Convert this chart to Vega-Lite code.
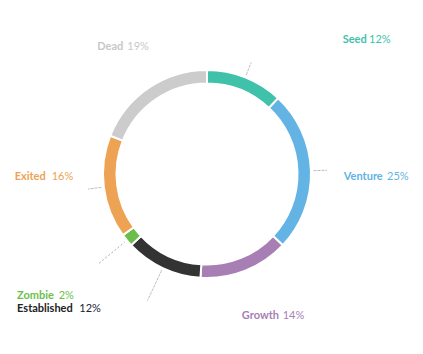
{
  "$schema": "https://vega.github.io/schema/vega-lite/v6.json",
  "width": 414,
  "height": 348,
  "padding": 0,
  "autosize": "none",
  "background": "white",
  "config": {"view": {"stroke": null}, "text": {"font": "Lato", "fontSize": 11, "baseline": "middle", "radius": 115}},
  "data": {"values": [
    {"category": "Seed", "value": 12},
    {"category": "Venture", "value": 25},
    {"category": "Growth", "value": 14},
    {"category": "Established", "value": 12},
    {"category": "Zombie", "value": 2},
    {"category": "Exited", "value": 16},
    {"category": "Dead", "value": 19}
  ]},
  "transform": [
    {"stack": "value", "groupby": [], "as": ["v0", "v1"]},
    {"calculate": "(datum.v0 + datum.v1) / 2", "as": "mid"},
    {"calculate": "datum.value + '%'", "as": "pct"}
  ],
  "layer": [
    {
      "mark": {"type": "arc", "outerRadius": 104, "innerRadius": 90.5, "stroke": "#ffffff", "strokeWidth": 2},
      "encoding": {
        "theta": {"field": "v0", "type": "quantitative", "stack": null, "scale": {"domain": [0, 100]}},
        "theta2": {"field": "v1"},
        "color": {"field": "category", "type": "nominal", "legend": null,
          "scale": {"domain": ["Seed", "Venture", "Growth", "Established", "Zombie", "Exited", "Dead"],
                    "range": ["#40c2aa", "#63b4e4", "#a77fb5", "#333333", "#6abf4a", "#eea254", "#cccccc"]}}
      }
    },
    {"transform": [{"filter": "datum.category === 'Seed' || datum.category === 'Venture' || datum.category === 'Exited'"}],
     "mark": {"type": "arc", "outerRadius": 120, "innerRadius": 106, "fill": null, "stroke": "#bbbbbb", "strokeWidth": 1, "strokeDash": [1.5, 2.5]},
     "encoding": {"theta": {"field": "mid", "type": "quantitative", "stack": null}, "theta2": {"field": "mid"}}},
    {"transform": [{"filter": "datum.category === 'Zombie'"}],
     "mark": {"type": "arc", "outerRadius": 140, "innerRadius": 107, "fill": null, "stroke": "#bbbbbb", "strokeWidth": 1, "strokeDash": [1.5, 2.5]},
     "encoding": {"theta": {"field": "mid", "type": "quantitative", "stack": null}, "theta2": {"field": "mid"}}},
    {"transform": [{"filter": "datum.category === 'Established'"}],
     "mark": {"type": "arc", "outerRadius": 140, "innerRadius": 106, "fill": null, "stroke": "#bbbbbb", "strokeWidth": 1, "strokeDash": [1.5, 2.5]},
     "encoding": {"theta": {"field": "mid", "type": "quantitative", "stack": null}, "theta2": {"field": "mid"}}},
    {"transform": [{"filter": "datum.category === 'Seed'"}],
     "mark": {"type": "text", "align": "right", "dx": 117.4, "dy": -27, "fontWeight": "bold", "color": "#40c2aa"},
     "encoding": {"theta": {"field": "mid", "type": "quantitative", "stack": null}, "text": {"field": "category"}}},
    {"transform": [{"filter": "datum.category === 'Seed'"}],
     "mark": {"type": "text", "align": "left", "dx": 119.7, "dy": -27, "fontWeight": "normal", "color": "#40c2aa"},
     "encoding": {"theta": {"field": "mid", "type": "quantitative", "stack": null}, "text": {"field": "pct"}}},
    {"transform": [{"filter": "datum.category === 'Venture'"}],
     "mark": {"type": "text", "align": "right", "dx": 60.8, "dy": 6.3, "fontWeight": "bold", "color": "#63b4e4"},
     "encoding": {"theta": {"field": "mid", "type": "quantitative", "stack": null}, "text": {"field": "category"}}},
    {"transform": [{"filter": "datum.category === 'Venture'"}],
     "mark": {"type": "text", "align": "left", "dx": 65.1, "dy": 6.3, "fontWeight": "normal", "color": "#63b4e4"},
     "encoding": {"theta": {"field": "mid", "type": "quantitative", "stack": null}, "text": {"field": "pct"}}},
    {"transform": [{"filter": "datum.category === 'Growth'"}],
     "mark": {"type": "text", "align": "right", "dx": 29.7, "dy": 35, "fontWeight": "bold", "color": "#a77fb5"},
     "encoding": {"theta": {"field": "mid", "type": "quantitative", "stack": null}, "text": {"field": "category"}}},
    {"transform": [{"filter": "datum.category === 'Growth'"}],
     "mark": {"type": "text", "align": "left", "dx": 33.4, "dy": 35, "fontWeight": "normal", "color": "#a77fb5"},
     "encoding": {"theta": {"field": "mid", "type": "quantitative", "stack": null}, "text": {"field": "pct"}}},
    {"transform": [{"filter": "datum.category === 'Established'"}],
     "mark": {"type": "text", "align": "right", "dx": -85.3, "dy": 30.9, "fontWeight": "bold", "color": "#222222"},
     "encoding": {"theta": {"field": "mid", "type": "quantitative", "stack": null}, "text": {"field": "category"}}},
    {"transform": [{"filter": "datum.category === 'Established'"}],
     "mark": {"type": "text", "align": "left", "dx": -78.7, "dy": 30.9, "fontWeight": "normal", "color": "#222233"},
     "encoding": {"theta": {"field": "mid", "type": "quantitative", "stack": null}, "text": {"field": "pct"}}},
    {"transform": [{"filter": "datum.category === 'Zombie'"}],
     "mark": {"type": "text", "align": "right", "dx": -64.4, "dy": 48.2, "fontWeight": "bold", "color": "#6abf4a"},
     "encoding": {"theta": {"field": "mid", "type": "quantitative", "stack": null}, "text": {"field": "category"}}},
    {"transform": [{"filter": "datum.category === 'Zombie'"}],
     "mark": {"type": "text", "align": "left", "dx": -59.7, "dy": 48.2, "fontWeight": "normal", "color": "#6abf4a"},
     "encoding": {"theta": {"field": "mid", "type": "quantitative", "stack": null}, "text": {"field": "pct"}}},
    {"transform": [{"filter": "datum.category === 'Exited'"}],
     "mark": {"type": "text", "align": "right", "dx": -47.2, "dy": -11.7, "fontWeight": "bold", "color": "#eea254"},
     "encoding": {"theta": {"field": "mid", "type": "quantitative", "stack": null}, "text": {"field": "category"}}},
    {"transform": [{"filter": "datum.category === 'Exited'"}],
     "mark": {"type": "text", "align": "left", "dx": -41.2, "dy": -11.7, "fontWeight": "normal", "color": "#eea254"},
     "encoding": {"theta": {"field": "mid", "type": "quantitative", "stack": null}, "text": {"field": "pct"}}},
    {"transform": [{"filter": "datum.category === 'Dead'"}],
     "mark": {"type": "text", "align": "right", "dx": -19.1, "dy": -32.2, "fontWeight": "bold", "color": "#c8c8c8"},
     "encoding": {"theta": {"field": "mid", "type": "quantitative", "stack": null}, "text": {"field": "category"}}},
    {"transform": [{"filter": "datum.category === 'Dead'"}],
     "mark": {"type": "text", "align": "left", "dx": -15.1, "dy": -32.2, "fontWeight": "normal", "color": "#c8c8c8"},
     "encoding": {"theta": {"field": "mid", "type": "quantitative", "stack": null}, "text": {"field": "pct"}}}
  ]
}
